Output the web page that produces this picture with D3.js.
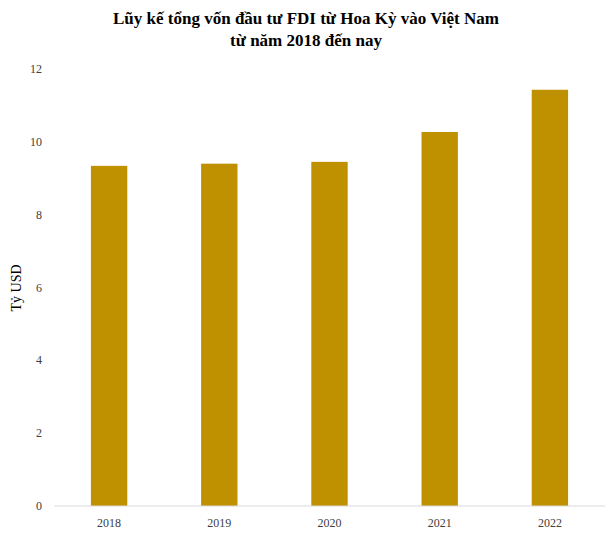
<!DOCTYPE html>
<html><head><meta charset="utf-8">
<script src="https://cdn.jsdelivr.net/npm/d3@7"></script>
<style>body{margin:0;background:#fff}text{font-family:"Liberation Serif","Times New Roman",serif}</style>
</head><body>
<svg id="c" width="612" height="534"></svg>
<script>
var years = ["2018", "2019", "2020", "2021", "2022"];
var values = [9.34, 9.40, 9.45, 10.27, 11.43];
var yTicks = [0, 2, 4, 6, 8, 10, 12];

var svg = d3.select("#c");
var x = d3.scaleBand().domain(years).range([54, 605]).paddingInner(0.67).paddingOuter(0.335);
var y = d3.scaleLinear().domain([0, 12]).range([506, 69]);

svg.append("text").attr("x", 306).attr("y", 24).attr("text-anchor", "middle")
  .style("font-size", "17px").style("font-weight", "bold")
  .text("Lũy kế tổng vốn đầu tư FDI từ Hoa Kỳ vào Việt Nam");
svg.append("text").attr("x", 306).attr("y", 46).attr("text-anchor", "middle")
  .style("font-size", "17px").style("font-weight", "bold")
  .text("từ năm 2018 đến nay");

svg.selectAll("rect.bar").data(values).enter().append("rect")
  .attr("class", "bar")
  .attr("x", function(d, i) { return x(years[i]); })
  .attr("width", x.bandwidth())
  .attr("y", function(d) { return y(d); })
  .attr("height", function(d) { return y(0) - y(d); })
  .attr("fill", "#bf9000");

svg.append("line").attr("x1", 54).attr("x2", 605).attr("y1", y(0)).attr("y2", y(0))
  .attr("stroke", "#d9d9d9");

svg.selectAll("text.yt").data(yTicks).enter().append("text")
  .attr("class", "yt").attr("x", 42).attr("y", function(d) { return y(d) + 4; })
  .attr("text-anchor", "end").style("font-size", "12px").attr("fill", "#404040")
  .text(function(d) { return d; });

svg.selectAll("text.xt").data(years).enter().append("text")
  .attr("class", "xt").attr("x", function(d) { return x(d) + x.bandwidth() / 2; })
  .attr("y", 527).attr("text-anchor", "middle").style("font-size", "12px").attr("fill", "#404040")
  .text(function(d) { return d; });

svg.append("text").attr("transform", "translate(21," + 288 + ") rotate(-90)")
  .attr("text-anchor", "middle").style("font-size", "14px").attr("fill", "#000")
  .text("Tỷ USD");
</script>
</body></html>
